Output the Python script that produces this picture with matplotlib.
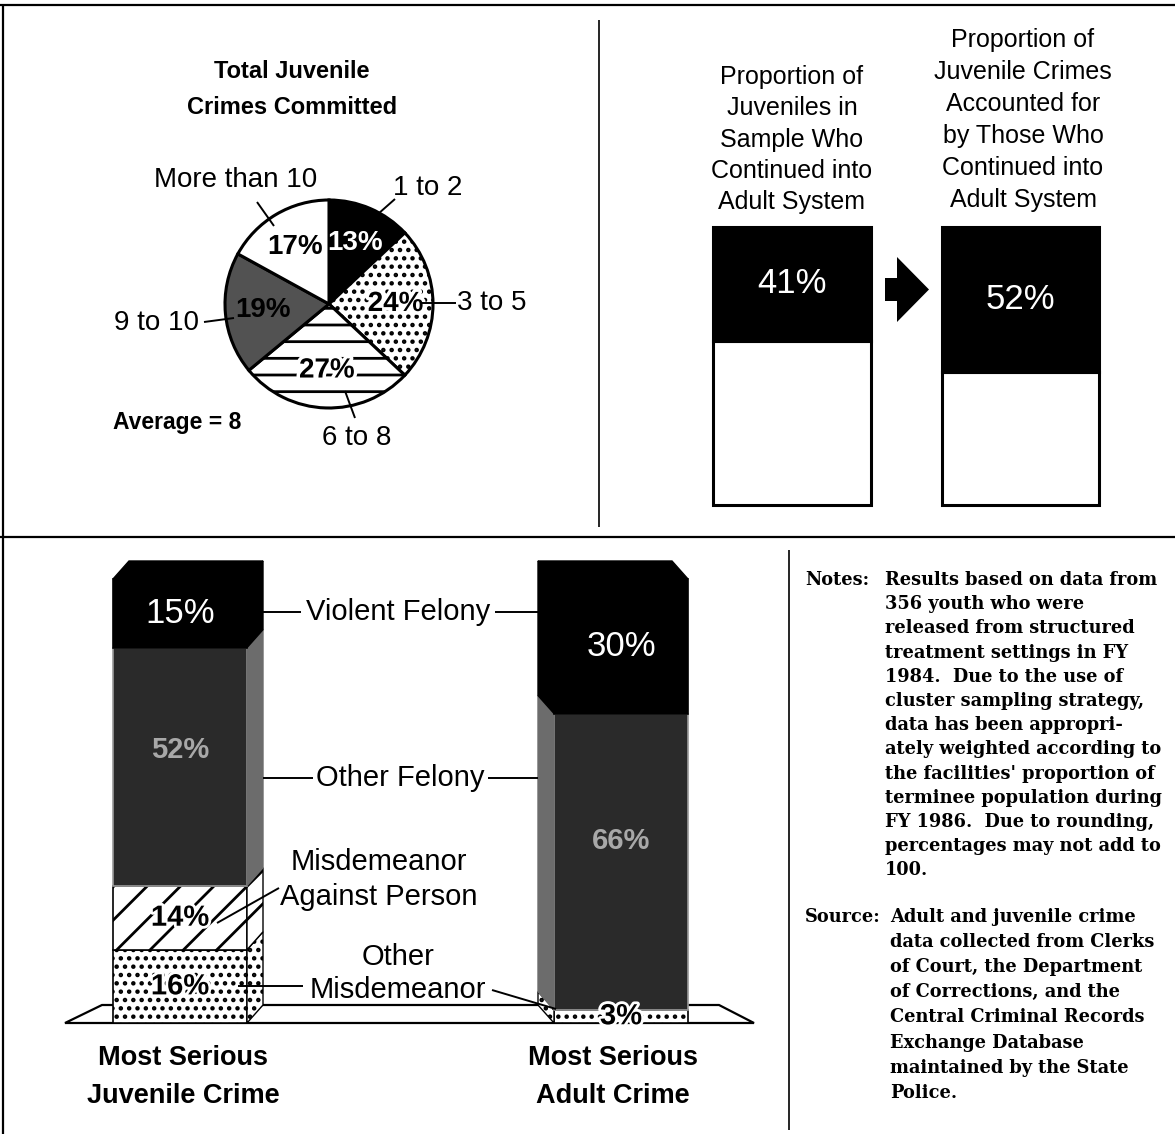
import matplotlib
matplotlib.use("Agg")
import matplotlib.pyplot as plt
import matplotlib.patheffects as pe
from matplotlib.patches import Polygon, FancyArrow
import numpy as np

# ---------------------------------------------------------------- data
pie_labels = ["1 to 2", "3 to 5", "6 to 8", "9 to 10", "More than 10"]
pie_values = [13, 24, 27, 19, 17]
average_crimes = 8

prop_titles = [
    "Proportion of\nJuveniles in\nSample Who\nContinued into\nAdult System",
    "Proportion of\nJuvenile Crimes\nAccounted for\nby Those Who\nContinued into\nAdult System",
]
prop_values = [41, 52]

crime_groups = ["Most Serious\nJuvenile Crime", "Most Serious\nAdult Crime"]
crime_types = ["Violent Felony", "Other Felony",
               "Misdemeanor\nAgainst Person", "Other\nMisdemeanor"]
juvenile_share = [15, 52, 14, 16]
adult_share = [30, 66, 0, 3]

notes_lines = [
    "Results based on data from",
    "356 youth who were",
    "released from structured",
    "treatment settings in FY",
    "1984.  Due to the use of",
    "cluster sampling strategy,",
    "data has been appropri-",
    "ately weighted according to",
    "the facilities' proportion of",
    "terminee population during",
    "FY 1986.  Due to rounding,",
    "percentages may not add to",
    "100.",
]
source_lines = [
    "Adult and juvenile crime",
    "data collected from Clerks",
    "of Court, the Department",
    "of Corrections, and the",
    "Central Criminal Records",
    "Exchange Database",
    "maintained by the State",
    "Police.",
]

# ---------------------------------------------------------------- setup
W, H, DPI = 1175, 1134, 100
plt.rcParams["hatch.linewidth"] = 2.0
SANS = ["Liberation Sans", "DejaVu Sans"]
SERIF = ["DejaVu Serif"]

fig = plt.figure(figsize=(W / DPI, H / DPI), dpi=DPI)
fig.patch.set_facecolor("white")


def axes_px(x0, y0, x1, y1):
    """Axes placed by a pixel box measured from the top-left corner."""
    return fig.add_axes([x0 / W, 1 - y1 / H, (x1 - x0) / W, (y1 - y0) / H])


# overlay in pixel units for frame lines, labels and leaders
ov = fig.add_axes([0, 0, 1, 1], zorder=10)
ov.set_xlim(0, W)
ov.set_ylim(H, 0)
ov.axis("off")


def line(x0, y0, x1, y1, lw=1.4):
    ov.plot([x0, x1], [y0, y1], color="black", lw=lw, solid_capstyle="butt")


def stacked_text(x, y0, dy, text, **kw):
    for k, part in enumerate(text.split("\n")):
        ov.text(x, y0 + k * dy, part, ha="center", va="center", **kw)


# frame
line(0, 5, W, 5, lw=1.6)
line(3, 5, 3, H, lw=1.6)
line(0, 537, W, 537, lw=1.6)
line(599, 20, 599, 527, lw=1.2)
line(789, 550, 789, 1130, lw=1.2)

# ---------------------------------------------------------------- pie
cx, cy, r = 329, 304, 104
pad = 120
pax = axes_px(cx - pad, cy - pad, cx + pad, cy + pad)
wedges, _, autotexts = pax.pie(
    pie_values, startangle=90, counterclock=False,
    colors=["black", "white", "white", "#525252", "white"],
    autopct=lambda p: f"{p:.0f}%", pctdistance=0.64,
    wedgeprops=dict(edgecolor="black", linewidth=2.2),
    textprops=dict(family=SANS, weight="bold", fontsize=20),
)
wedges[1].set_hatch("..")
wedges[2].set_hatch("-")
pax.set_xlim(-pad / r, pad / r)
pax.set_ylim(-pad / r, pad / r)
pax.axis("off")
for t, col in zip(autotexts, ["white", "black", "black", "black", "black"]):
    t.set_color(col)
for t in (autotexts[1], autotexts[2]):
    t.set_path_effects([pe.withStroke(linewidth=5, foreground="white")])

ov.text(292, 72, "Total Juvenile", ha="center", va="center",
        family=SANS, weight="bold", fontsize=17)
ov.text(292, 108, "Crimes Committed", ha="center", va="center",
        family=SANS, weight="bold", fontsize=17)

pie_label_pos = [(428, 188), (492, 303), (357, 438), (157, 323), (236, 180)]
pie_leaders = [((395, 199), (378, 214)), ((456, 303), (422, 303)),
               ((355, 418), (345, 391)), ((204, 322), (234, 318)),
               ((257, 202), (274, 226))]
for lab, (tx, ty), ((x0, y0), (x1, y1)) in zip(pie_labels, pie_label_pos, pie_leaders):
    ov.text(tx, ty, lab, ha="center", va="center", family=SANS, fontsize=20)
    line(x0, y0, x1, y1, lw=1.4)
ov.text(177, 423, f"Average = {average_crimes}", ha="center", va="center",
        family=SANS, weight="bold", fontsize=16.5)

# ---------------------------------------------------------------- proportion bars
bax = axes_px(680, 215, 1130, 515)
sxp = 228.0                      # pixels per category step
syp = 2.78                       # pixels per percent
bw = 157 / sxp
pos = np.arange(len(prop_values))
rest = [100 - v for v in prop_values]
bax.bar(pos, rest, width=bw, color="white", edgecolor="black", linewidth=2.2)
bax.bar(pos, prop_values, bottom=rest, width=bw, color="black",
        edgecolor="black", linewidth=2.2)
bax.set_xlim((680 - 792) / sxp, (1130 - 792) / sxp)
bax.set_ylim(-(515 - 505) / syp, 100 + (227 - 215) / syp)
bax.axis("off")
for p, v, b in zip(pos, prop_values, rest):
    bax.text(p, b + v / 2, f"{v}%", ha="center", va="center", color="white",
             family=SANS, fontsize=25)

stacked_text(792, 77, 31.3, prop_titles[0], family=SANS, fontsize=18)
stacked_text(1023, 40, 32.0, prop_titles[1], family=SANS, fontsize=18)

ov.add_patch(FancyArrow(885, 289.5, 44, 0, width=23, head_width=65,
                        head_length=32, length_includes_head=True,
                        color="black", lw=0))

# ---------------------------------------------------------------- 3-D stacked bars
cax = axes_px(40, 555, 780, 1030)
sx = 441.0                       # pixels per category step
sy = 4.44                        # pixels per percent
cw = 134 / sx
ddx, ddy = 16 / sx, 18 / sy       # receding depth of the bar sides
cax.set_xlim((40 - 180) / sx, (780 - 180) / sx)
cax.set_ylim(-(1030 - 1023) / sy, 100 + (579 - 555) / sy)
cax.axis("off")

# floor
floor = Polygon([(-0.5 * cw - 48 / sx, 0), (-0.5 * cw - 11 / sx, ddy),
                 (1 + 0.5 * cw + 31 / sx, ddy), (1 + 0.5 * cw + 66 / sx, 0)],
                closed=True, facecolor="white", edgecolor="black", lw=1.6, zorder=1)
cax.add_patch(floor)

front_style = {
    "Violent Felony": dict(color="black", hatch=None, ec="black"),
    "Other Felony": dict(color="#2a2a2a", hatch=None, ec="#9a9a9a"),
    "Misdemeanor\nAgainst Person": dict(color="white", hatch="/", ec="black"),
    "Other\nMisdemeanor": dict(color="white", hatch="..", ec="black"),
}
side_color = {"Violent Felony": "black", "Other Felony": "#6c6c6c",
              "Misdemeanor\nAgainst Person": "white", "Other\nMisdemeanor": "white"}
label_color = {"Violent Felony": "white", "Other Felony": "#a8a8a8",
               "Misdemeanor\nAgainst Person": "black", "Other\nMisdemeanor": "black"}
label_frac = {"Violent Felony": 0.5, "Other Felony": 0.57,
              "Misdemeanor\nAgainst Person": 0.5, "Other\nMisdemeanor": 0.5}

for gi, shares in enumerate([juvenile_share, adult_share]):
    sgn = 1 if gi == 0 else -1
    scaled = np.array(shares, float) / sum(shares) * 100
    bottom = 0.0
    xe = gi + sgn * cw / 2
    for k in reversed(range(len(crime_types))):
        name, h, val = crime_types[k], scaled[k], shares[k]
        if h <= 0:
            continue
        st = front_style[name]
        cax.bar(gi, h, bottom=bottom, width=cw, color=st["color"],
                edgecolor=st["ec"], linewidth=1.2, hatch=st["hatch"], zorder=3)
        side = Polygon([(xe, bottom), (xe, bottom + h),
                        (xe + sgn * ddx, bottom + h + ddy),
                        (xe + sgn * ddx, bottom + ddy)], closed=True,
                       facecolor=side_color[name],
                       edgecolor="black" if st["hatch"] else side_color[name],
                       hatch=st["hatch"], lw=1.0, zorder=3)
        cax.add_patch(side)
        if name == "Violent Felony":
            kw = dict(family=SANS, fontsize=25)
        else:
            kw = dict(family=SANS, weight="bold", fontsize=21)
        txt = cax.text(gi, bottom + h * label_frac[name], f"{val}%", ha="center",
                       va="center", color=label_color[name], zorder=5, **kw)
        if label_color[name] == "black":
            txt.set_path_effects([pe.withStroke(linewidth=4, foreground="white")])
        bottom += h
    top = Polygon([(gi - cw / 2, bottom), (gi + cw / 2, bottom),
                   (gi + cw / 2 + sgn * ddx, bottom + ddy),
                   (gi - cw / 2 + sgn * ddx, bottom + ddy)], closed=True,
                  facecolor="black", edgecolor="black", lw=1.0, zorder=3)
    cax.add_patch(top)

# category captions and leaders
ov.text(398, 612, "Violent Felony", ha="center", va="center", family=SANS, fontsize=21)
line(263, 612, 301, 612)
line(495, 612, 538, 612)
ov.text(400, 778, "Other Felony", ha="center", va="center", family=SANS, fontsize=21)
line(263, 778, 313, 778)
line(488, 778, 538, 778)
stacked_text(379, 862, 35, crime_types[2], family=SANS, fontsize=21)
line(279, 888, 217, 923)
stacked_text(398, 957, 33, crime_types[3], family=SANS, fontsize=21)
line(238, 986, 303, 986)
line(492, 990, 556, 1009)

stacked_text(183, 1058, 38, crime_groups[0], family=SANS, weight="bold", fontsize=19.5)
stacked_text(613, 1058, 38, crime_groups[1], family=SANS, weight="bold", fontsize=19.5)

# ---------------------------------------------------------------- notes
NOTE_FS = 12.8
ov.text(805, 580, "Notes:", ha="left", va="center", family=SERIF, weight="bold", fontsize=NOTE_FS)
for k, s in enumerate(notes_lines):
    ov.text(885, 580 + k * 24.2, s, ha="left", va="center",
            family=SERIF, weight="bold", fontsize=NOTE_FS)
ov.text(805, 917, "Source:", ha="left", va="center", family=SERIF, weight="bold", fontsize=NOTE_FS)
for k, s in enumerate(source_lines):
    ov.text(890, 917 + k * 25.1, s, ha="left", va="center",
            family=SERIF, weight="bold", fontsize=NOTE_FS)

fig.savefig("out.png", dpi=DPI, facecolor="white")
